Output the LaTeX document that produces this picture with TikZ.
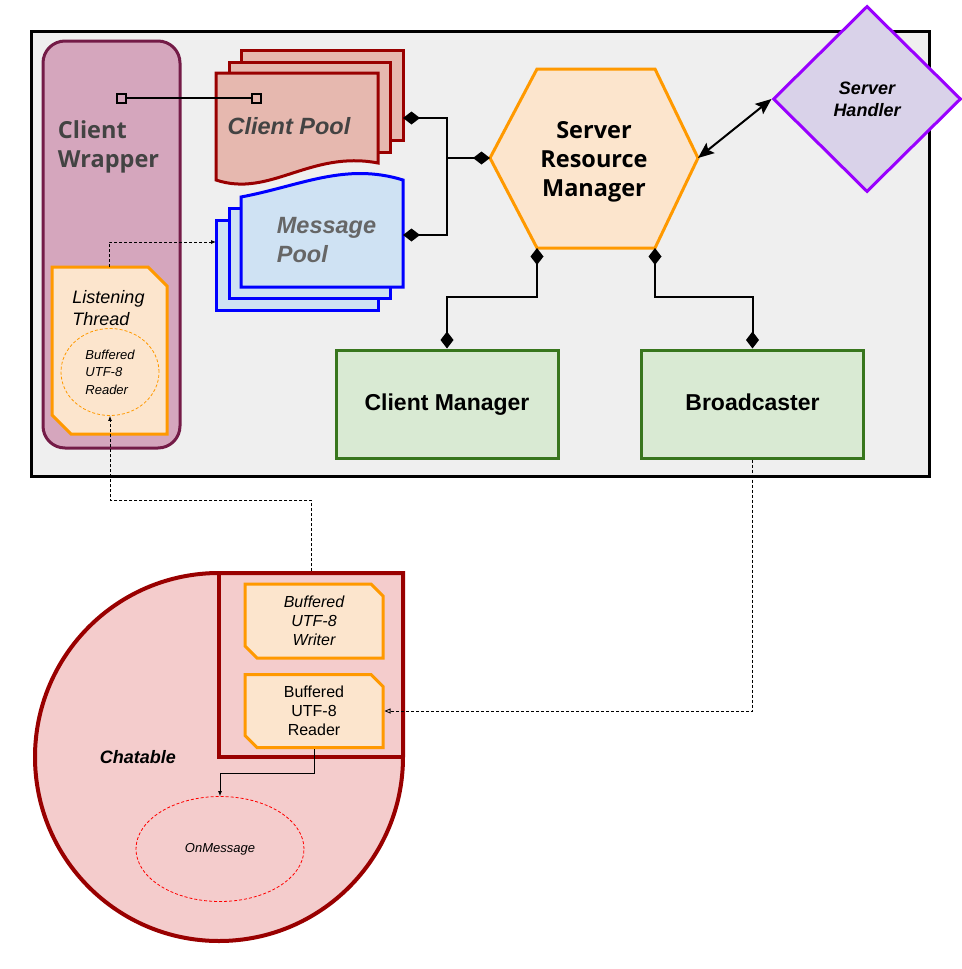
\documentclass[tikz,border=0pt]{standalone}
\usepackage{fontspec}
\setmainfont{Liberation Sans}
\newfontfamily\opensans{Open Sans}
\usetikzlibrary{
    arrows.meta,
    shapes.geometric,
    shapes.misc,
    positioning
}

\definecolor{panelgray}{HTML}{EFEFEF}
\definecolor{wrapfill}{HTML}{D5A6BD}
\definecolor{wrapline}{HTML}{741B47}
\definecolor{notefill}{HTML}{FCE5CD}
\definecolor{noteline}{HTML}{FF9900}
\definecolor{cpoolfill}{HTML}{E6B8AF}
\definecolor{darkred}{HTML}{990000}
\definecolor{mpoolfill}{HTML}{CFE2F3}
\definecolor{handfill}{HTML}{D9D2E9}
\definecolor{handline}{HTML}{9900FF}
\definecolor{mgrfill}{HTML}{D9EAD3}
\definecolor{mgrline}{HTML}{38761D}
\definecolor{chatfill}{HTML}{F4CCCC}
\definecolor{darktext}{HTML}{434343}
\definecolor{greytext}{HTML}{666666}

\tikzset{
    every node/.style={inner sep=0pt},
    frame/.style={draw=black, line width=3pt, fill=panelgray,
        minimum width=898pt, minimum height=445pt},
    wrapper/.style={draw=wrapline, fill=wrapfill, line width=3pt,
        rounded corners=22pt, minimum width=137pt, minimum height=407pt},
    note/.style={chamfered rectangle,
        chamfered rectangle corners={north east,south west},
        draw=noteline, fill=notefill, line width=3pt},
    notepath/.style={draw=noteline, fill=notefill, line width=3pt},
    cpool/.style={draw=darkred, fill=cpoolfill, line width=3pt},
    mpool/.style={draw=blue, fill=mpoolfill, line width=3pt},
    hexa/.style={draw=noteline, fill=notefill, line width=3pt},
    handler/.style={diamond, draw=handline, fill=handfill, line width=3pt,
        minimum width=188pt, minimum height=186pt},
    mgr/.style={draw=mgrline, fill=mgrfill, line width=3pt,
        minimum width=222pt, minimum height=108pt,
        text height=17pt, text depth=5pt,
        font=\fontsize{23}{28}\selectfont\bfseries},
    chat/.style={draw=darkred, fill=chatfill, line width=4pt},
    big/.style={font=\fontsize{23.5}{29}\selectfont\bfseries},
    link/.style={line width=2pt},
    dtip/.tip={Diamond[length=17pt,width=13pt]},
    agg/.style={link, dtip-},
    aggboth/.style={link, dtip-dtip},
    dep/.style={line width=0.8pt, dash pattern=on 3pt off 2pt},
    tinytip/.style={-{Latex[length=5pt,width=4pt]}}
}

\begin{document}
\begin{tikzpicture}[x=1pt,y=-1pt]
\useasboundingbox (0,0) rectangle (961,969);

% server
\node[frame] (server) at (480,253.5) {};

% client wrapper
\node[wrapper] (cw) at (111.5,244.5) {};
\node[big, text=darktext, align=left] (cwlabel) at (108.5,147)
    {\opensans\bfseries Client\\\opensans\bfseries Wrapper};
\draw[notepath] (52,267) -- (148,267) -- (167,286) -- (167,434)
    -- (71,434) -- (52,415) -- cycle;
\coordinate (lthread) at (109,267);
\node[align=left, font=\fontsize{18}{22}\selectfont\itshape] (ltlabel) at (108.5,308)
    {Listening\\Thread};
\node[ellipse, draw=noteline, line width=0.8pt, dash pattern=on 3pt off 2pt,
    minimum width=98pt, minimum height=87pt, align=left,
    font=\fontsize{13}{17.5}\selectfont\itshape] (lreader) at (110,372)
    {Buffered\\UTF-8\\Reader};

% client pool
\draw[cpool] (241,50) rectangle (403,140);
\draw[cpool] (229,62) rectangle (390,152);
\draw[cpool] (216,73) -- (378,73) -- (378,163)
    .. controls (310,150) and (270,198) .. (216,180) -- cycle;
\node[big, font=\fontsize{23.5}{29}\selectfont\bfseries\itshape, text=darktext]
    (cpool) at (289,126) {Client Pool};
\coordinate (cpR) at (403,118);

% message pool
\draw[mpool] (216,220) rectangle (378,310);
\draw[mpool] (229,208) rectangle (390,298);
\draw[mpool] (241,197) .. controls (300,186) and (345,162) .. (403,180)
    -- (403,287) -- (241,287) -- cycle;
\node[align=left, font=\fontsize{23.5}{29}\selectfont\bfseries\itshape, text=greytext]
    (mpool) at (326.5,240) {Message\\Pool};
\coordinate (mpR) at (403,235);
\coordinate (mpL) at (216,242);

% wrapper holds a client
\coordinate (cwPort) at (116,98);
\coordinate (cpPort) at (262,98);
\draw[link, {Square[open,length=11pt,width=11pt]}-{Square[open,length=11pt,width=11pt]}]
    (cwPort) -- (cpPort);

% server resource manager
\coordinate (srmW) at (490,158);
\coordinate (srmE) at (698,158);
\coordinate (srmSW) at (537,248);
\coordinate (srmSE) at (655,248);
\draw[hexa] (srmW) -- (537,69) -- (655,69) -- (srmE) -- (srmSE) -- (srmSW) -- cycle;
\node[big, align=center] (srm) at (594,162)
    {\opensans\bfseries Server\\\opensans\bfseries Resource\\\opensans\bfseries Manager};

% server handler
\node[handler, align=center, font=\fontsize{18}{22}\selectfont\bfseries\itshape]
    (sh) at (867,99) {Server\\Handler};

% managers
\node[mgr] (cm) at (447,404) {Client Manager};
\node[mgr] (bc) at (752.5,404) {Broadcaster};

% links
\coordinate (junc) at (447,158);
\draw[agg] (cpR) -| (junc);
\draw[agg] (mpR) -| (junc);
\draw[link, -dtip] (junc) -- (srmW);
\draw[link, {Stealth[length=16pt,width=13pt,inset=3pt]}-{Stealth[length=16pt,width=13pt,inset=3pt]}]
    (srmE) -- (sh.west);
\draw[aggboth] (srmSW) -- ++(0,49) -| (cm.north);
\draw[aggboth] (srmSE) -- ++(0,49) -| (bc.north);

% chatable
\draw[chat] (219,573) arc[start angle=270, end angle=0, radius=184]
    -- (403,573) -- cycle;
\node[draw=darkred, line width=3.5pt, minimum width=184pt, minimum height=184pt]
    (inner) at (311,665) {};
\node[note, minimum width=138pt, minimum height=74pt,
    chamfered rectangle xsep=6pt, chamfered rectangle ysep=6pt, align=center,
    font=\fontsize{16}{19}\selectfont\itshape] (writer) at (314,621)
    {Buffered\\UTF-8\\Writer};
\node[note, minimum width=138pt, minimum height=73pt,
    chamfered rectangle xsep=6pt, chamfered rectangle ysep=6pt, align=center,
    font=\fontsize{16}{19}\selectfont] (reader) at (314,711)
    {Buffered\\UTF-8\\Reader};
\node[font=\fontsize{18}{22}\selectfont\bfseries\itshape] (chatlabel) at (138,757) {Chatable};
\node[ellipse, draw=red, line width=0.8pt, dash pattern=on 3pt off 2pt,
    minimum width=168pt, minimum height=105pt,
    font=\fontsize{13}{16}\selectfont\itshape] (onmsg) at (220,849) {OnMessage};

% message flow
\coordinate (bend) at (110,500);
\draw[dep, tinytip] (lthread) |- (mpL);
\draw[dep, tinytip] (inner.north) -- (inner.north |- bend) -| (lreader.south);
\draw[dep, -{Triangle[open,length=6pt,width=5pt]}] (bc.south) |- (reader.east);
\draw[line width=0.8pt, tinytip] (reader.south) -- ++(0,24) -| (onmsg.north);
\end{tikzpicture}
\end{document}
